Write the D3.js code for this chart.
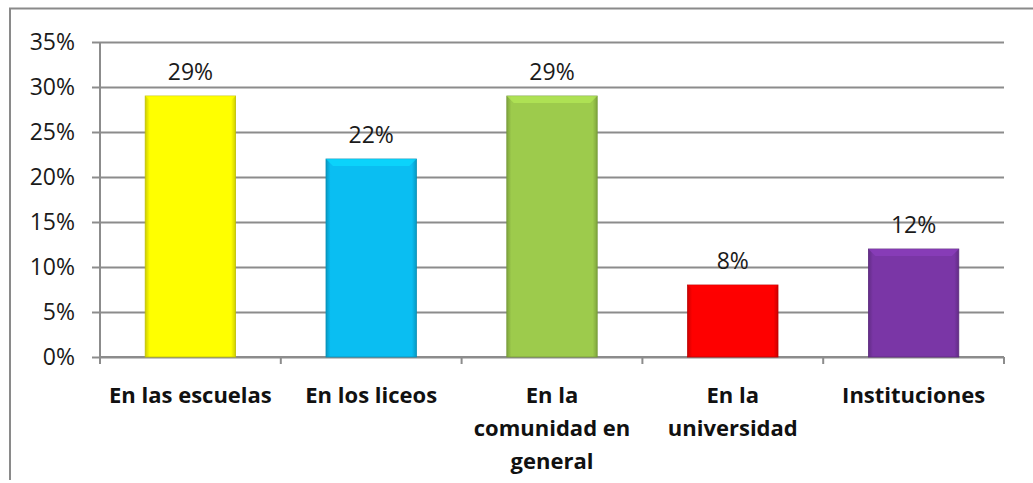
<!DOCTYPE html>
<html>
<head>
<meta charset="utf-8">
<script src="https://cdn.jsdelivr.net/npm/d3@7"></script>
<style>
  html, body { margin: 0; padding: 0; background: #fff; }
  svg { display: block; font-family: "Open Sans", sans-serif; }
</style>
</head>
<body>
<svg id="chart" width="1033" height="483"></svg>
<script>
// Share of responses by place
const categories = ["En las escuelas", "En los liceos", "En la comunidad en general", "En la universidad", "Instituciones"];
const categoryLines = [["En las escuelas"], ["En los liceos"], ["En la", "comunidad en", "general"], ["En la", "universidad"], ["Instituciones"]];
const values = [0.29, 0.22, 0.29, 0.08, 0.12];
const valueLabels = ["29%", "22%", "29%", "8%", "12%"];
const barColors = ["#ffff00", "#0abef2", "#9dcb4c", "#fe0000", "#7a36a6"];
const yTicks = [0, 0.05, 0.10, 0.15, 0.20, 0.25, 0.30, 0.35];

const svg = d3.select("#chart");
const plot = { left: 100, right: 1004, top: 42, bottom: 357 };
const FONT = "'Open Sans', sans-serif";

// Outer frame (top and left edges visible)
svg.append("path")
  .attr("d", "M10,480 L10,8.5 L1033,8.5")
  .attr("fill", "none").attr("stroke", "#8a8a8a").attr("stroke-width", 2);

const x = d3.scaleBand().domain(categories).range([plot.left, plot.right]).paddingInner(0.5).paddingOuter(0.25);
const xOuter = d3.scaleBand().domain(categories).range([plot.left, plot.right]);
const y = d3.scaleLinear().domain([0, 0.35]).range([plot.bottom, plot.top]);

// Gridlines and y axis
const yAxis = d3.axisLeft(y).tickValues(yTicks).tickFormat(d3.format(".0%"))
  .tickSize(-(plot.right - plot.left)).tickPadding(25);
const gy = svg.append("g").attr("transform", `translate(${plot.left},0)`).call(yAxis);
gy.select(".domain").remove();
gy.selectAll(".tick line").attr("stroke", "#8c8c8c").attr("stroke-width", 2);
gy.selectAll(".tick").append("line").attr("x1", -8).attr("x2", 0).attr("stroke", "#8c8c8c").attr("stroke-width", 2);
gy.selectAll(".tick text").attr("font-size", 23).attr("fill", "#1a1a1a").attr("font-family", FONT);
svg.append("line").attr("x1", plot.left).attr("x2", plot.left)
  .attr("y1", plot.top).attr("y2", plot.bottom + 7).attr("stroke", "#8c8c8c").attr("stroke-width", 2);

// Category ticks along the baseline
const bounds = categories.map(c => xOuter(c)).concat([plot.right]);
svg.selectAll(".xtick").data(bounds).join("line").attr("class", "xtick")
  .attr("x1", d => d).attr("x2", d => d).attr("y1", plot.bottom).attr("y2", plot.bottom + 7)
  .attr("stroke", "#8c8c8c").attr("stroke-width", 2);
svg.append("line").attr("x1", plot.left).attr("x2", plot.right).attr("y1", plot.bottom).attr("y2", plot.bottom)
  .attr("stroke", "#8c8c8c").attr("stroke-width", 2);

// Bevelled bar fills
const defs = svg.append("defs");
barColors.forEach((c, i) => {
  const g = defs.append("linearGradient").attr("id", "side" + i).attr("x1", 0).attr("x2", 1).attr("y1", 0).attr("y2", 0);
  const dark = d3.color(c).darker(0.6);
  g.append("stop").attr("offset", 0).attr("stop-color", dark);
  g.append("stop").attr("offset", 0.05).attr("stop-color", c);
  g.append("stop").attr("offset", 0.95).attr("stop-color", c);
  g.append("stop").attr("offset", 1).attr("stop-color", dark);
});

const bars = svg.selectAll(".bar").data(categories).join("g").attr("class", "bar");
bars.append("rect")
  .attr("x", d => x(d)).attr("width", x.bandwidth())
  .attr("y", (d, i) => y(values[i])).attr("height", (d, i) => y(0) - y(values[i]))
  .attr("fill", (d, i) => `url(#side${i})`)
  .attr("stroke", (d, i) => d3.color(barColors[i]).darker(0.8)).attr("stroke-width", 0.8);
// light top bevel
bars.append("path")
  .attr("d", (d, i) => {
    const x0 = x(d), x1 = x0 + x.bandwidth(), t = y(values[i]), b = 7;
    return `M${x0},${t} L${x1},${t} L${x1 - b},${t + b} L${x0 + b},${t + b} Z`;
  })
  .attr("fill", (d, i) => d3.color(barColors[i]).brighter(0.4)).attr("opacity", 0.7);

// Value labels
svg.selectAll(".vlabel").data(categories).join("text").attr("class", "vlabel")
  .attr("x", d => x(d) + x.bandwidth() / 2)
  .attr("y", (d, i) => y(values[i]) - 16)
  .attr("text-anchor", "middle").attr("font-size", 23).attr("fill", "#1a1a1a").attr("font-family", FONT)
  .text((d, i) => valueLabels[i]);

// Category labels
const cl = svg.selectAll(".clabel").data(categories).join("text").attr("class", "clabel")
  .attr("x", d => x(d) + x.bandwidth() / 2).attr("y", 403)
  .attr("text-anchor", "middle").attr("font-size", 22).attr("font-weight", "bold")
  .attr("fill", "#111").attr("font-family", FONT);
cl.selectAll("tspan").data((d, i) => categoryLines[i]).join("tspan")
  .attr("x", function () { return this.parentNode.getAttribute("x"); })
  .attr("dy", (d, j) => j === 0 ? 0 : 33).text(d => d);
</script>
</body>
</html>
